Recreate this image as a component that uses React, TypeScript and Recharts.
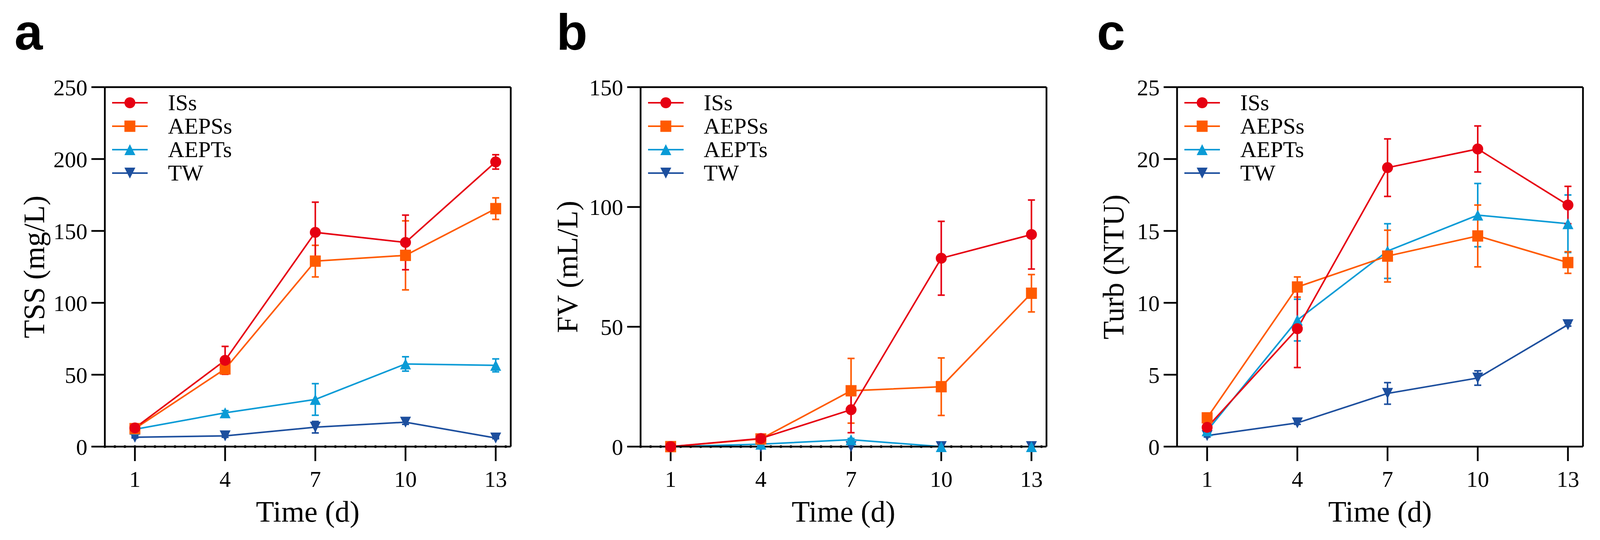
import React from 'react';
import { LineChart, Line, XAxis, YAxis, ErrorBar, ReferenceLine, Legend } from 'recharts';

// sampling days (x axis)
const days = [1, 4, 7, 10, 13];
const seriesNames = ['ISs', 'AEPSs', 'AEPTs', 'TW'];
const seriesColors = ['#E60012', '#FF5A00', '#0A9BD6', '#1D4F9E'];
const seriesShapes = ['circle', 'square', 'triangle', 'triangleDown'];

// a: TSS (mg/L)
const tssISs = [13, 60, 149, 142, 198];
const tssISsErr = [2, 9.7, 21, 19, 5];
const tssAEPSs = [12.5, 54, 129, 133, 165.5];
const tssAEPSsErr = [1.5, 3.5, 11, 24, 7.5];
const tssAEPTs = [12, 23.5, 32.8, 57.5, 56.5];
const tssAEPTsErr = [0.5, 1.5, 11, 5, 4.5];
const tssTW = [6.5, 7.5, 13.5, 17, 6];
const tssTWErr = [0.5, 1, 4, 1.5, 0.5];
const tssTicks = [0, 50, 100, 150, 200, 250];

// b: FV (mL/L)
const fvISs = [0, 3.4, 15.4, 78.6, 88.5];
const fvISsErr = [0, 1.8, 9.6, 15.4, 14.4];
const fvAEPSs = [0, 3.2, 23.3, 25, 64];
const fvAEPSsErr = [0, 1.5, 13.5, 12, 7.8];
const fvAEPTs = [0, 1, 2.9, 0, 0];
const fvAEPTsErr = [0, 0.3, 0.5, 0, 0];
const fvTW = [0, 0, 0, 0, 0];
const fvTWErr = [0, 0, 0, 0, 0];
const fvTicks = [0, 50, 100, 150];

// c: Turb (NTU)
const turbISs = [1.34, 8.2, 19.4, 20.7, 16.8];
const turbISsErr = [0.3, 2.7, 2, 1.6, 1.3];
const turbAEPSs = [2.0, 11.1, 13.25, 14.65, 12.8];
const turbAEPSsErr = [0.3, 0.7, 1.8, 2.15, 0.75];
const turbAEPTs = [1.1, 8.8, 13.6, 16.1, 15.5];
const turbAEPTsErr = [0.2, 1.45, 1.9, 2.2, 2];
const turbTW = [0.77, 1.65, 3.7, 4.77, 8.48];
const turbTWErr = [0.1, 0.1, 0.75, 0.5, 0.1];
const turbTicks = [0, 5, 10, 15, 20, 25];

const SERIF = '"Liberation Serif", "Times New Roman", serif';
const SANS = '"Liberation Sans", Arial, sans-serif';
const DESIGN_W = 4411;
const H = 1382;
// the browser viewport is narrower than the design width, so squeeze horizontal layout to fit
const SX = typeof window !== 'undefined' ? Math.min(1, window.innerWidth / DESIGN_W) : 1;
const sx = (v: number) => Math.round(v * SX * 10) / 10;
const W = Math.floor(DESIGN_W * SX);

const PLOT_TOP = 223;
const PLOT_BOTTOM = 1143;
const PLOT_W = sx(1119);
const X_MAX = 13.5;
const AXIS_W = 4.5;
const Y_AXIS_W = 150;
const X_AXIS_H = 120;

const panels = [
  {
    letter: 'a', title: 'TSS (mg/L)', ticks: tssTicks, left: 0, width: sx(1470), plotLeft: sx(289),
    letterX: sx(40), titleX: sx(289 - 167), dotted: true,
    means: [tssISs, tssAEPSs, tssAEPTs, tssTW], errs: [tssISsErr, tssAEPSsErr, tssAEPTsErr, tssTWErr],
  },
  {
    letter: 'b', title: 'FV (mL/L)', ticks: fvTicks, left: sx(1470), width: sx(1470), plotLeft: sx(1766),
    letterX: sx(1534), titleX: sx(1766 - 174), dotted: true,
    means: [fvISs, fvAEPSs, fvAEPTs, fvTW], errs: [fvISsErr, fvAEPSsErr, fvAEPTsErr, fvTWErr],
  },
  {
    letter: 'c', title: 'Turb (NTU)', ticks: turbTicks, left: sx(2940), width: W - sx(2940), plotLeft: sx(3245),
    letterX: sx(3024), titleX: sx(3245 - 148), dotted: false,
    means: [turbISs, turbAEPSs, turbAEPTs, turbTW], errs: [turbISsErr, turbAEPSsErr, turbAEPTsErr, turbTWErr],
  },
];

function Marker({ shape, cx, cy, color }: any) {
  if (cx == null || cy == null) return null;
  if (shape === 'circle') return <circle cx={cx} cy={cy} r={14} fill={color} />;
  if (shape === 'square') return <rect x={cx - 14} y={cy - 14.5} width={28} height={29} fill={color} />;
  if (shape === 'triangle')
    return <polygon points={`${cx},${cy - 14} ${cx + 14},${cy + 14} ${cx - 14},${cy + 14}`} fill={color} />;
  return <polygon points={`${cx},${cy + 14} ${cx + 14},${cy - 14} ${cx - 14},${cy - 14}`} fill={color} />;
}

const LEG_LINE = sx(98);

function LegendBox() {
  return (
    <div style={{ fontFamily: SERIF, fontSize: 58, lineHeight: 1, color: '#000' }}>
      {seriesNames.map((n, k) => (
        <div key={n} style={{ display: 'flex', alignItems: 'center', height: 60, whiteSpace: 'nowrap' }}>
          <svg width={LEG_LINE} height={40} style={{ display: 'block' }}>
            <line x1={0} x2={LEG_LINE} y1={20} y2={20} stroke={seriesColors[k]} strokeWidth={4} />
            <Marker shape={seriesShapes[k]} cx={LEG_LINE / 2} cy={20} color={seriesColors[k]} />
          </svg>
          <span style={{ marginLeft: sx(56) }}>{n}</span>
        </div>
      ))}
    </div>
  );
}

const tickStyle = { fontSize: 58, fill: '#000', fontFamily: SERIF };
const axisStyle = { stroke: '#000', strokeWidth: AXIS_W };
// draw TW first so ISs sits on top
const drawOrder = [3, 2, 1, 0];

function Panel({ p }: any) {
  const rows = days.map((d, i) => {
    const r: any = { day: d };
    seriesNames.forEach((n, k) => {
      r[n] = p.means[k][i];
      r[n + 'Err'] = p.errs[k][i];
    });
    return r;
  });
  const yMax = p.ticks[p.ticks.length - 1];
  const third = PLOT_W / X_MAX / 3;
  const mLeft = p.plotLeft - p.left;
  const mRight = p.left + p.width - p.plotLeft - PLOT_W;

  return (
    <div style={{ position: 'absolute', left: p.left, top: 0, width: p.width, height: H }}>
      <LineChart
        width={p.width}
        height={H}
        data={rows}
        margin={{ top: PLOT_TOP, bottom: H - PLOT_BOTTOM - X_AXIS_H, left: mLeft - Y_AXIS_W, right: mRight }}
      >
        <XAxis
          type="number"
          dataKey="day"
          domain={[0, X_MAX]}
          ticks={days}
          interval={0}
          height={X_AXIS_H}
          tickSize={37}
          tickMargin={25}
          tick={tickStyle}
          axisLine={axisStyle}
          tickLine={axisStyle}
        />
        <YAxis
          type="number"
          domain={[0, yMax]}
          ticks={p.ticks}
          interval={0}
          width={Y_AXIS_W}
          tickSize={sx(37)}
          tickMargin={sx(11)}
          tick={tickStyle}
          axisLine={axisStyle}
          tickLine={axisStyle}
        />
        <ReferenceLine y={yMax} stroke="#000" strokeWidth={AXIS_W} />
        <ReferenceLine x={X_MAX} stroke="#000" strokeWidth={AXIS_W} />
        {p.dotted && (
          <ReferenceLine
            y={0}
            stroke="#000"
            strokeWidth={7}
            strokeDasharray={`0 ${third}`}
            strokeLinecap="round"
          />
        )}
        {drawOrder.map((k) => {
          const n = seriesNames[k];
          const c = seriesColors[k];
          return (
            <Line
              key={n}
              dataKey={n}
              stroke={c}
              strokeWidth={4}
              isAnimationActive={false}
              activeDot={false}
              dot={(props: any) => (
                <Marker key={`${n}-${props.index}`} shape={seriesShapes[k]} cx={props.cx} cy={props.cy} color={c} />
              )}
            >
              <ErrorBar dataKey={n + 'Err'} direction="y" width={9} strokeWidth={4} stroke={c} isAnimationActive={false} />
            </Line>
          );
        })}
        <Legend
          layout="vertical"
          align="center"
          verticalAlign="middle"
          content={() => <LegendBox />}
          wrapperStyle={{ left: mLeft + sx(20), top: PLOT_TOP + 10, width: 'auto', height: 'auto' }}
        />
      </LineChart>
    </div>
  );
}

export default function App() {
  return (
    <div style={{ position: 'absolute', left: 0, top: 0, width: W, height: H, background: '#fff', overflow: 'hidden' }}>
      {panels.map((p) => (
        <Panel key={p.letter} p={p} />
      ))}
      <svg width={W} height={H} style={{ position: 'absolute', left: 0, top: 0, pointerEvents: 'none' }}>
        {panels.map((p) => {
          const cx = p.plotLeft + PLOT_W / 2;
          const cy = (PLOT_TOP + PLOT_BOTTOM) / 2;
          return (
            <g key={p.letter}>
              <text x={p.letterX} y={127} fontFamily={SANS} fontWeight="bold" fontSize={130} fill="#000">
                {p.letter}
              </text>
              <text x={cx} y={1335} textAnchor="middle" fontFamily={SERIF} fontSize={76} fill="#000">
                Time (d)
              </text>
              <text
                transform={`translate(${p.titleX},${cy}) rotate(-90)`}
                textAnchor="middle"
                fontFamily={SERIF}
                fontSize={76}
                fill="#000"
              >
                {p.title}
              </text>
            </g>
          );
        })}
      </svg>
    </div>
  );
}
